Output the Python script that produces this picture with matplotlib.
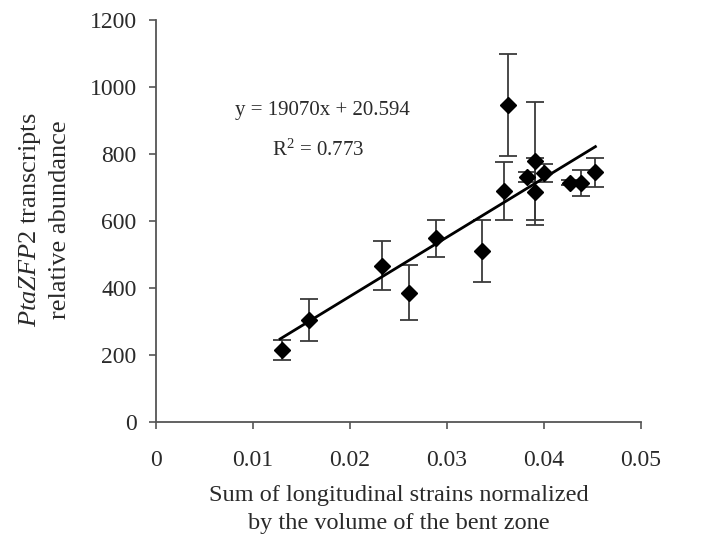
import matplotlib
matplotlib.use("Agg")
import matplotlib.pyplot as plt

# valores
strain = [0.0130, 0.0158, 0.0233, 0.0261, 0.0289, 0.0336, 0.0359, 0.0363,
          0.0391, 0.0391, 0.0382, 0.0400, 0.0427, 0.0438, 0.0453]
abundance = [215, 304, 467, 386, 548, 511, 690, 946,
             779, 687, 730, 742, 714, 714, 745]
err = [30, 62, 72, 82, 54, 92, 87, 152,
       176, 100, 15, 27, 8, 39, 44]

# linha de tendencia (extremos lidos)
trend_x = [0.0128, 0.0453]
trend_y = [248, 822]

xticks = [0, 0.01, 0.02, 0.03, 0.04, 0.05]
xticklabels = ["0", "0.01", "0.02", "0.03", "0.04", "0.05"]
yticks = [0, 200, 400, 600, 800, 1000, 1200]

plt.rcParams['font.family'] = 'Liberation Serif'
plt.rcParams['mathtext.fontset'] = 'custom'
plt.rcParams['mathtext.rm'] = 'Liberation Serif'
plt.rcParams['mathtext.it'] = 'Liberation Serif:italic'

fig = plt.figure(figsize=(7.03, 5.40), dpi=100)
ax = fig.add_axes([156 / 703, 1 - 422 / 540, 485 / 703, 402 / 540])

txt = '#2a2a2a'
ax.errorbar(strain, abundance, yerr=err, fmt='none', ecolor='#3a3a3a',
            elinewidth=1.3, capsize=6.5, capthick=1.3, zorder=2)
ax.plot(trend_x, trend_y, color='black', linewidth=2.0, zorder=3)
ax.plot(strain, abundance, 'D', color='black', markersize=8, zorder=4)

ax.set_xlim(0, 0.05)
ax.set_ylim(0, 1200)
ax.set_xticks(xticks)
ax.set_xticklabels(xticklabels)
ax.set_yticks(yticks)

for s in ['top', 'right']:
    ax.spines[s].set_visible(False)
for s in ['left', 'bottom']:
    ax.spines[s].set_color('#555555')
    ax.spines[s].set_linewidth(1.3)

ax.tick_params(axis='both', direction='out', length=5, width=1.2,
               color='#555555', labelsize=17, labelcolor=txt)
ax.tick_params(axis='x', pad=15)
ax.tick_params(axis='y', pad=9)

ax.set_xlabel('Sum of longitudinal strains normalized\nby the volume of the bent zone',
              fontsize=17.5, color=txt, labelpad=10, linespacing=1.45)

# rotulo do eixo y
fig.text(44 / 703, 1 - 220 / 540,
         '$\\mathit{PtaZFP2}$ transcripts\nrelative abundance',
         fontsize=19, color=txt, rotation=90, ha='center', va='center',
         multialignment='center', linespacing=1.35)

ax.text(0.0172, 931, 'y = 19070x + 20.594', fontsize=15, color=txt,
        ha='center', va='center')
ax.text(0.0167, 812, 'R$^{2}$ = 0.773', fontsize=15, color=txt,
        ha='center', va='center')

fig.savefig('out.png', dpi=100)
